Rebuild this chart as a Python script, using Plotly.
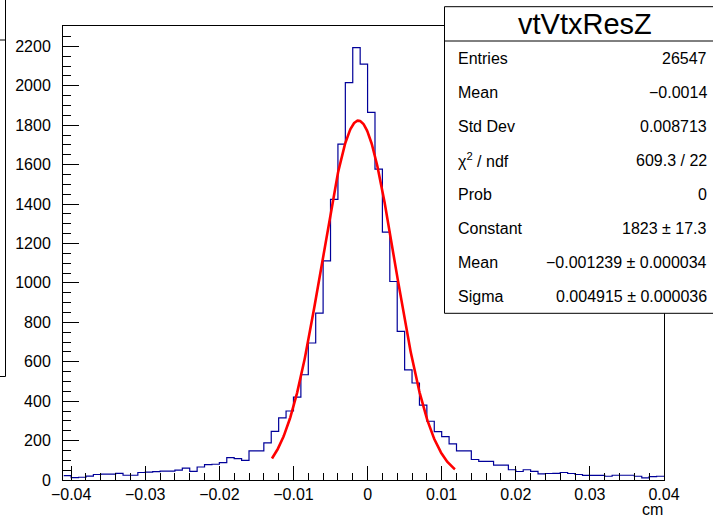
import numpy as np
import plotly.graph_objects as go

# ---- histogram: vtVtxResZ, 81 bins of 0.001 cm starting at -0.041 cm ----
bin_low = -0.041
bin_width = 0.001
counts = [
    22, 12, 14, 20, 28, 30, 30, 34, 24, 24,      # -0.041 .. -0.032
    38, 40, 42, 45, 45, 50, 60, 44, 66, 78,      # -0.031 .. -0.022
    80, 88, 114, 108, 100, 148, 148, 188, 247, 315,  # -0.021 .. -0.012
    350, 420, 534, 695, 847, 1112, 1424, 1704, 2016, 2193,  # -0.011 .. -0.002
    2110, 1865, 1577, 1257, 1007, 754, 559, 492, 380, 298,  # -0.001 .. 0.008
    245, 220, 183, 148, 148, 104, 94, 94, 75, 75,  # 0.009 .. 0.018
    52, 43, 52, 44, 31, 33, 34, 38, 33, 28,      # 0.019 .. 0.028
    23, 23, 23, 19, 24, 24, 24, 19, 11, 17,      # 0.029 .. 0.038
    19,                                          # 0.039
]

# ---- gaussian fit result ----
fit_constant = 1823.0
fit_mean = -0.001239
fit_sigma = 0.004915
fit_range = [-0.0129, 0.0118]

# ---- statistics box ----
stats_title = "vtVtxResZ"
stats_labels = ["Entries", "Mean", "Std Dev", "χ<sup>2</sup> / ndf", "Prob",
                "Constant", "Mean", "Sigma"]
stats_values = ["26547", "−0.0014", "0.008713", "609.3 / 22", "0",
                "1823 ± 17.3", "−0.001239 ± 0.000034", "0.004915 ± 0.000036"]

# ---- axes ----
x_range = [-0.0411, 0.040]
y_range = [0, 2303]
x_tickvals = [-0.04, -0.03, -0.02, -0.01, 0.0, 0.01, 0.02, 0.03, 0.04]
x_ticktext = ["−0.04", "−0.03", "−0.02", "−0.01", "0", "0.01", "0.02", "0.03", "0.04"]
y_tickvals = [0, 200, 400, 600, 800, 1000, 1200, 1400, 1600, 1800, 2000, 2200]
y_ticktext = [str(v) for v in y_tickvals]
x_title = "cm"

FONT = "Liberation Sans, Arial, Helvetica, sans-serif"
W, H = 713, 520
L, R, T, B = 63, 664, 26, 480


def px(x):
    return (x - L) / (R - L)


def py(y):
    return (B - y) / (B - T)


edges = bin_low + bin_width * np.arange(len(counts) + 1)
step_y = list(counts) + [counts[-1]]

fig = go.Figure()
fig.add_trace(go.Scatter(
    x=edges, y=step_y, mode="lines", line_shape="hv",
    line=dict(color="#000099", width=1.2), hoverinfo="skip", showlegend=False,
))

xf = np.linspace(fit_range[0], fit_range[1], 400)
yf = fit_constant * np.exp(-0.5 * ((xf - fit_mean) / fit_sigma) ** 2)
fig.add_trace(go.Scatter(
    x=xf, y=yf, mode="lines", line=dict(color="#ff0000", width=2.6),
    hoverinfo="skip", showlegend=False,
))

shapes = []
annotations = []

# stats box
box_l, box_r, box_t, box_b, title_sep = 444.5, 725, 6.7, 313.3, 41
shapes.append(dict(type="rect", xref="paper", yref="paper",
                   x0=px(box_l), x1=px(box_r), y0=py(box_b), y1=py(box_t),
                   line=dict(color="black", width=1), fillcolor="white", layer="above"))
shapes.append(dict(type="line", xref="paper", yref="paper",
                   x0=px(box_l), x1=px(box_r), y0=py(title_sep), y1=py(title_sep),
                   line=dict(color="black", width=1), layer="above"))
annotations.append(dict(text=stats_title, xref="paper", yref="paper",
                        x=px(584.5), y=py(24), xanchor="center", yanchor="middle",
                        showarrow=False, font=dict(family=FONT, size=29, color="black")))
row_h = (box_b - title_sep) / len(stats_labels)
for i, (lab, val) in enumerate(zip(stats_labels, stats_values)):
    yc = title_sep + row_h * (i + 0.5)
    annotations.append(dict(text=lab, xref="paper", yref="paper",
                            x=px(456), y=py(yc), xanchor="left", yanchor="middle",
                            showarrow=False, font=dict(family=FONT, size=16, color="black")))
    annotations.append(dict(text=val, xref="paper", yref="paper",
                            x=px(708.5), y=py(yc), xanchor="right", yanchor="middle",
                            showarrow=False, font=dict(family=FONT, size=16, color="black")))

# edge of a neighbouring pad's box at the far left
shapes.append(dict(type="path", xref="paper", yref="paper",
                   path=f"M {px(-5)},{py(40)} L {px(5.5)},{py(40)} M {px(5.5)},{py(-5)} "
                        f"L {px(5.5)},{py(376.5)} L {px(-5)},{py(376.5)}",
                   line=dict(color="black", width=1)))

# x axis title
annotations.append(dict(text=x_title, xref="paper", yref="paper",
                        x=px(665), y=py(509.5), xanchor="right", yanchor="middle",
                        showarrow=False, font=dict(family=FONT, size=16, color="black")))

fig.update_layout(
    width=W, height=H,
    margin=dict(l=L, r=W - R, t=T, b=H - B, pad=0),
    paper_bgcolor="white", plot_bgcolor="white",
    shapes=shapes, annotations=annotations,
    font=dict(family=FONT, size=16, color="black"),
)
fig.update_xaxes(
    range=x_range, showgrid=False, zeroline=False,
    showline=True, mirror=True, linecolor="black", linewidth=1,
    tickmode="array", tickvals=x_tickvals, ticktext=x_ticktext,
    ticks="inside", ticklen=14, tickcolor="black", tickwidth=1,
    minor=dict(ticks="inside", ticklen=7, dtick=0.002, tick0=0.0,
               tickcolor="black", tickwidth=1, showgrid=False),
    tickfont=dict(family=FONT, size=16, color="black"),
    ticklabelstandoff=0,
)
fig.update_yaxes(
    range=y_range, showgrid=False, zeroline=False,
    showline=True, mirror=True, linecolor="black", linewidth=1,
    tickmode="array", tickvals=y_tickvals, ticktext=y_ticktext,
    ticks="inside", ticklen=16, tickcolor="black", tickwidth=1,
    minor=dict(ticks="inside", ticklen=8, dtick=50, tick0=0,
               tickcolor="black", tickwidth=1, showgrid=False),
    tickfont=dict(family=FONT, size=16, color="black"),
    ticklabelstandoff=8,
)

fig.write_html("out.html")
